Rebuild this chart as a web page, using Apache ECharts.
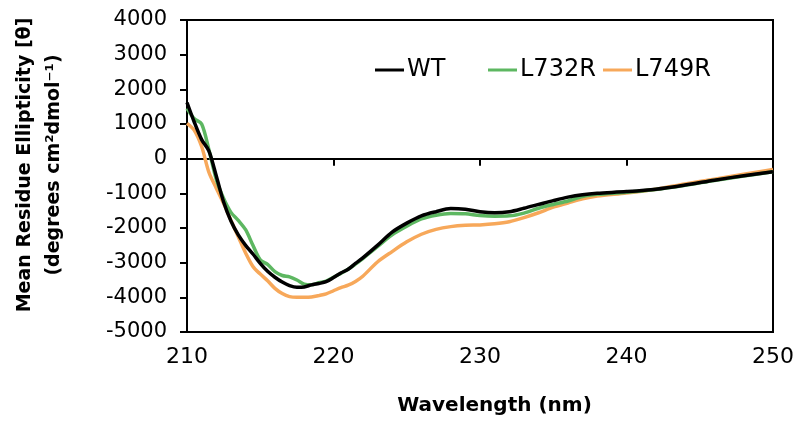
<!DOCTYPE html>
<html>
<head>
<meta charset="utf-8">
<script src="https://cdn.jsdelivr.net/npm/echarts@6/dist/echarts.min.js"></script>
<style>html,body{margin:0;padding:0;background:#fff}#c{width:803px;height:432px}</style>
</head>
<body>
<div id="c"></div>
<script>
const wavelengths = [210, 210.5, 211, 211.5, 212, 212.5, 213, 213.5, 214, 214.5, 215, 215.5, 216, 216.5, 217, 217.5, 218, 218.5, 219, 219.5, 220, 220.5, 221, 221.5, 222, 223, 224, 225, 226, 227, 228, 229, 230, 231, 232, 233, 234, 235, 236, 237, 238, 240, 242, 244, 246, 248, 250];
const wt    = [1620, 1050, 550, 220, -500, -1250, -1800, -2200, -2500, -2750, -3020, -3250, -3420, -3560, -3660, -3710, -3700, -3640, -3600, -3550, -3430, -3300, -3190, -3020, -2860, -2500, -2120, -1860, -1650, -1530, -1440, -1460, -1530, -1560, -1530, -1430, -1320, -1210, -1110, -1040, -1000, -950, -880, -760, -620, -490, -375];
const l732r = [1450, 1150, 1000, 250, -600, -1150, -1550, -1780, -2050, -2500, -2920, -3050, -3260, -3370, -3410, -3500, -3620, -3640, -3580, -3530, -3420, -3310, -3190, -3040, -2880, -2540, -2200, -1950, -1740, -1630, -1580, -1590, -1640, -1660, -1650, -1570, -1430, -1320, -1220, -1090, -1030, -970, -890, -770, -630, -500, -380];
const l749r = [1020, 820, 350, -400, -850, -1290, -1780, -2250, -2720, -3110, -3330, -3520, -3740, -3890, -3980, -4000, -4000, -3990, -3950, -3900, -3810, -3720, -3650, -3540, -3390, -2980, -2680, -2400, -2180, -2040, -1960, -1920, -1910, -1880, -1820, -1700, -1560, -1400, -1280, -1160, -1080, -990, -880, -730, -590, -450, -310];
const seriesNames = ['WT', 'L732R', 'L749R'];
const seriesColors = ['#000000', '#5DB761', '#F7A85A'];
const xTicks = [210, 220, 230, 240, 250];
const yTicks = [-5000, -4000, -3000, -2000, -1000, 0, 1000, 2000, 3000, 4000];

const values = [wt, l732r, l749r];
const font = 'DejaVu Sans';
const chart = echarts.init(document.getElementById('c'), null, {renderer: 'canvas'});
const legendLefts = [370, 483, 598];
chart.setOption({
  animation: false,
  backgroundColor: '#fff',
  grid: {left: 187, right: 30, top: 20, bottom: 100, show: true, borderColor: '#000', borderWidth: 2, backgroundColor: 'transparent'},
  legend: seriesNames.map((n, i) => ({
    data: [{name: n, icon: 'rect'}], left: legendLefts[i], top: 53, itemWidth: 29, itemHeight: 3, itemGap: 0,
    textStyle: {fontFamily: font, fontSize: 24, color: '#000', padding: [0,0,0,-2]}
  })),
  xAxis: {
    type: 'value', min: xTicks[0], max: xTicks[xTicks.length-1], interval: 10,
    name: 'Wavelength (nm)', nameLocation: 'middle', nameGap: 64,
    nameTextStyle: {fontFamily: font, fontSize: 20, fontWeight: 'bold', color: '#000', padding: [0,0,0,29]},
    axisLine: {lineStyle: {color: '#000', width: 2}},
    axisTick: {inside: false, length: 7, lineStyle: {color: '#000', width: 2}},
    axisLabel: {fontFamily: font, fontSize: 22, color: '#000', margin: 14},
    splitLine: {show: false}
  },
  yAxis: {
    type: 'value', min: yTicks[0], max: yTicks[yTicks.length-1], interval: 1000,
    name: 'Mean Residue Ellipticity [θ]\n(degrees cm²dmol⁻¹)', nameLocation: 'middle', nameGap: 118, nameRotate: 90,
    nameTextStyle: {fontFamily: font, fontSize: 19, fontWeight: 'bold', color: '#000', lineHeight: 29, padding: [0,0,0,22]},
    axisLine: {lineStyle: {color: '#000', width: 2}},
    axisTick: {inside: false, length: 7, lineStyle: {color: '#000', width: 2}},
    axisLabel: {fontFamily: font, fontSize: 21, color: '#000', margin: 20, formatter: v => String(v)},
    splitLine: {show: false}
  },
  series: seriesNames.map((n, i) => ({
    name: n, type: 'line', smooth: 0.3, showSymbol: false, symbol: 'none',
    color: seriesColors[i],
    lineStyle: {color: seriesColors[i], width: 3.5},
    data: wavelengths.map((w, k) => [w, values[i][k]]),
    z: 3 - i
  }))
});
</script>
</body>
</html>
